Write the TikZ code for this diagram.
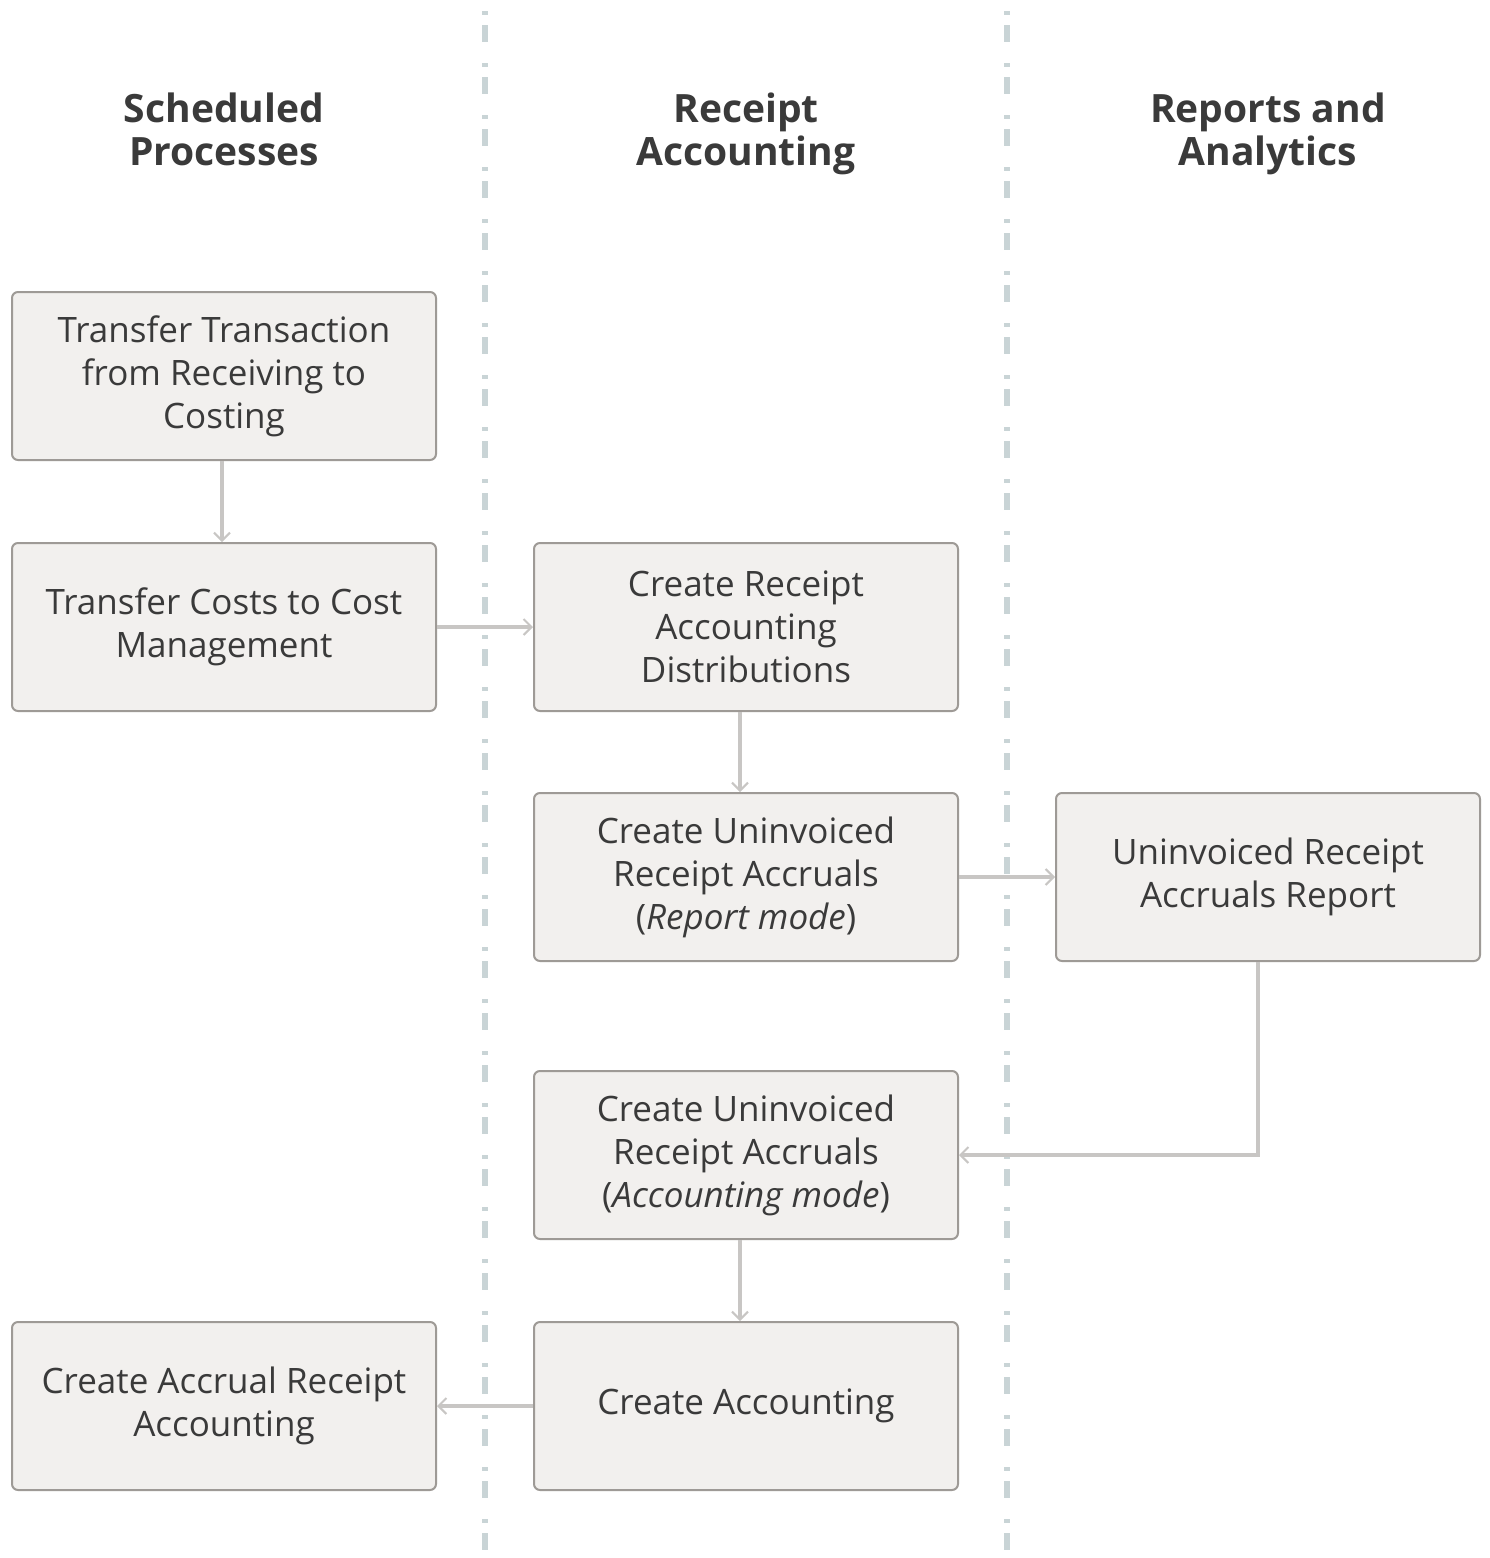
\documentclass[tikz,border=0pt]{standalone}
\usepackage{fontspec}
\setmainfont{Open Sans}
\usetikzlibrary{arrows.meta,calc}
\definecolor{boxfill}{HTML}{F2F0EE}
\definecolor{boxline}{HTML}{9E9A96}
\definecolor{arrowc}{HTML}{C8C6C4}
\definecolor{divc}{HTML}{C9D4D6}
\definecolor{txt}{HTML}{3A3A3A}
\begin{document}
\begin{tikzpicture}[x=0.5pt,y=-0.5pt,
  procbox/.style={draw=boxline,line width=1pt,fill=boxfill,rounded corners=3pt,
    minimum width=212pt,minimum height=84pt,align=center,text=txt,
    font=\fontsize{17.5}{21.5}\selectfont,inner sep=0pt},
  header/.style={align=center,text=txt,font=\fontsize{19.5}{21.5}\selectfont\bfseries,
    execute at begin node=\strut,execute at end node=\strut},
  divider/.style={draw=divc,line width=3pt,dash pattern=on 2pt off 5pt on 8.5pt off 10.5pt},
  flow/.style={draw=arrowc,line width=2pt,-{Straight Barb[length=4pt,width=8pt,line width=1pt]}}]
\useasboundingbox (0,0) rectangle (1489,1558);
\fill[white] (0,0) rectangle (1489,1558);
% dividers
\draw[divider] (485,11) -- (485,1558);
\draw[divider] (1007,11) -- (1007,1558);
% headers
\node[header] (h1) at (224,136) {Scheduled\\Processes};
\node[header] (h2) at (746,136) {Receipt\\Accounting};
\node[header] (h3) at (1268,136) {Reports and\\Analytics};
% boxes
\node[procbox] (ttr) at (224,376) {Transfer Transaction\\from Receiving to\\Costing};
\node[procbox] (tcc) at (224,627) {Transfer Costs to Cost\\Management};
\node[procbox] (car) at (224,1406) {Create Accrual Receipt\\Accounting};
\node[procbox] (crad) at (746,627) {Create Receipt\\Accounting\\Distributions};
\node[procbox] (cur) at (746,877) {Create Uninvoiced\\Receipt Accruals\\(\textit{Report mode})};
\node[procbox] (cua) at (746,1155) {Create Uninvoiced\\Receipt Accruals\\(\textit{Accounting mode})};
\node[procbox] (ca) at (746,1406) {Create Accounting};
\node[procbox] (urar) at (1268,877) {Uninvoiced Receipt\\Accruals Report};
% connectors
\draw[flow] ([xshift=-1pt]ttr.south) -- ([xshift=-1pt]tcc.north);
\draw[flow] (tcc.east) -- (crad.west);
\draw[flow] ([xshift=-3pt]crad.south) -- ([xshift=-3pt]cur.north);
\draw[flow] (cur.east) -- (urar.west);
\draw[flow] ([xshift=-5pt]urar.south) |- (cua.east);
\draw[flow] ([xshift=-3pt]cua.south) -- ([xshift=-3pt]ca.north);
\draw[flow] (ca.west) -- (car.east);
\end{tikzpicture}
\end{document}
